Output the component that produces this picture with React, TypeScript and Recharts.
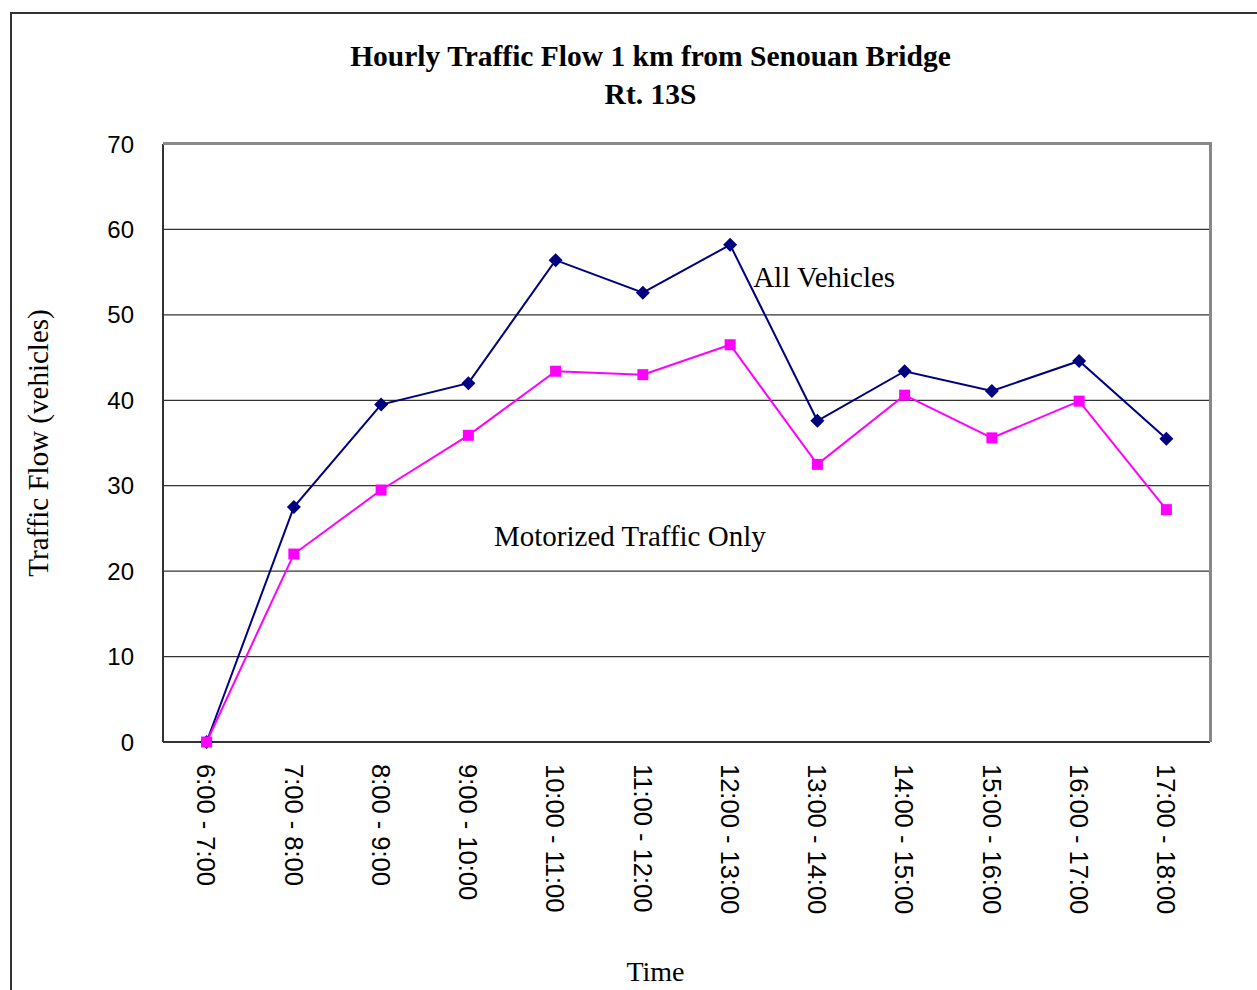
import React from "react";
import {
  LineChart,
  Line,
  XAxis,
  YAxis,
  CartesianGrid,
  ReferenceDot,
} from "recharts";

const hours = [
  "6:00 - 7:00",
  "7:00 - 8:00",
  "8:00 - 9:00",
  "9:00 - 10:00",
  "10:00 - 11:00",
  "11:00 - 12:00",
  "12:00 - 13:00",
  "13:00 - 14:00",
  "14:00 - 15:00",
  "15:00 - 16:00",
  "16:00 - 17:00",
  "17:00 - 18:00",
];
const allVehicles = [0, 27.5, 39.5, 42, 56.4, 52.6, 58.2, 37.6, 43.4, 41.1, 44.6, 35.5];
const motorizedOnly = [0, 22, 29.5, 35.9, 43.4, 43, 46.5, 32.5, 40.6, 35.6, 39.9, 27.2];
const yTicks = [0, 10, 20, 30, 40, 50, 60, 70];

const data = hours.map((h, i) => ({
  hour: h,
  all: allVehicles[i],
  motor: motorizedOnly[i],
}));

const serif = "'Liberation Serif', 'Times New Roman', serif";
const sans = "'Liberation Sans', Arial, sans-serif";

// plot box, used for the chart margins and the grey frame on top/right
const plot = { left: 163, top: 144, right: 1210, bottom: 742 };

const Diamond = (props: any) => {
  const { cx, cy } = props;
  if (cx == null || cy == null) return null;
  const r = 7;
  return (
    <polygon
      points={`${cx},${cy - r} ${cx + r},${cy} ${cx},${cy + r} ${cx - r},${cy}`}
      fill="#000080"
    />
  );
};

const Square = (props: any) => {
  const { cx, cy } = props;
  if (cx == null || cy == null) return null;
  return <rect x={cx - 5.5} y={cy - 5.5} width={11} height={11} fill="#FF00FF" />;
};

const HourTick = (props: any) => {
  const { x, y, payload } = props;
  return (
    <text
      x={x}
      y={y}
      transform={`rotate(90 ${x} ${y})`}
      textAnchor="start"
      dy="0.36em"
      fontSize={25.5}
      fontFamily={sans}
      fill="#000"
    >
      {payload.value}
    </text>
  );
};

export default function App() {
  return (
    <div
      style={{
        position: "absolute",
        left: 0,
        top: 0,
        width: 1257,
        height: 990,
        overflow: "hidden",
        background: "#fff",
      }}
    >
      <div
        style={{
          position: "absolute",
          left: 10,
          top: 12,
          width: 1300,
          height: 1000,
          border: "2px solid #333",
          boxSizing: "border-box",
        }}
      />
      <div
        style={{
          position: "absolute",
          left: 0,
          top: 37,
          width: 1257,
          textAlign: "center",
          fontFamily: serif,
          fontWeight: "bold",
          fontSize: 29.5,
          lineHeight: "38px",
          paddingLeft: 44,
          boxSizing: "border-box",
        }}
      >
        Hourly Traffic Flow 1 km from Senouan Bridge
        <br />
        Rt. 13S
      </div>
      <div style={{ position: "absolute", left: 0, top: 0 }}>
        <LineChart
          width={1257}
          height={990}
          data={data}
          margin={{ top: plot.top, right: 1257 - plot.right, left: plot.left - 60, bottom: 990 - plot.bottom - 160 }}
        >
          <CartesianGrid vertical={false} stroke="#333" strokeWidth={1.3} />
          <XAxis
            dataKey="hour"
            type="category"
            interval={0}
            padding={{ left: 43.6, right: 43.6 }}
            height={160}
            tickLine={false}
            tickSize={0}
            tickMargin={22}
            axisLine={{ stroke: "#333", strokeWidth: 2 }}
            tick={<HourTick />}
            label={{
              value: "Time",
              position: "insideBottom",
              offset: -79,
              dx: -31,
              fontFamily: serif,
              fontSize: 28,
              fill: "#000",
            }}
          />
          <YAxis
            domain={[0, 70]}
            ticks={yTicks}
            width={60}
            tickLine={false}
            tickSize={0}
            tickMargin={29}
            axisLine={{ stroke: "#333", strokeWidth: 2 }}
            tick={{ fontSize: 24, fontFamily: sans, fill: "#000" }}
            label={{
              value: "Traffic Flow (vehicles)",
              angle: -90,
              position: "insideLeft",
              offset: -65,
              style: { textAnchor: "middle" },
              fontFamily: serif,
              fontSize: 29,
              fill: "#000",
            }}
          />
          <Line
            dataKey="all"
            stroke="#000080"
            strokeWidth={2}
            dot={<Diamond />}
            activeDot={false}
            isAnimationActive={false}
          />
          <Line
            dataKey="motor"
            stroke="#FF00FF"
            strokeWidth={2}
            dot={<Square />}
            activeDot={false}
            isAnimationActive={false}
          />
          <ReferenceDot
            x="12:00 - 13:00"
            y={54.5}
            r={0}
            stroke="none"
            label={{
              value: "All Vehicles",
              position: "right",
              offset: 23,
              fontFamily: serif,
              fontSize: 29,
              fill: "#000",
            }}
          />
          <ReferenceDot
            x="11:00 - 12:00"
            y={24.2}
            r={0}
            stroke="none"
            label={{
              value: "Motorized Traffic Only",
              position: "center",
              dx: -13,
              fontFamily: serif,
              fontSize: 29,
              fill: "#000",
            }}
          />
        </LineChart>
      </div>
      <div
        style={{
          position: "absolute",
          left: plot.left,
          top: plot.top - 2,
          width: plot.right - plot.left + 2,
          height: plot.bottom - plot.top + 2,
          borderTop: "3px solid #888",
          borderRight: "3px solid #888",
          boxSizing: "border-box",
          pointerEvents: "none",
        }}
      />
    </div>
  );
}
